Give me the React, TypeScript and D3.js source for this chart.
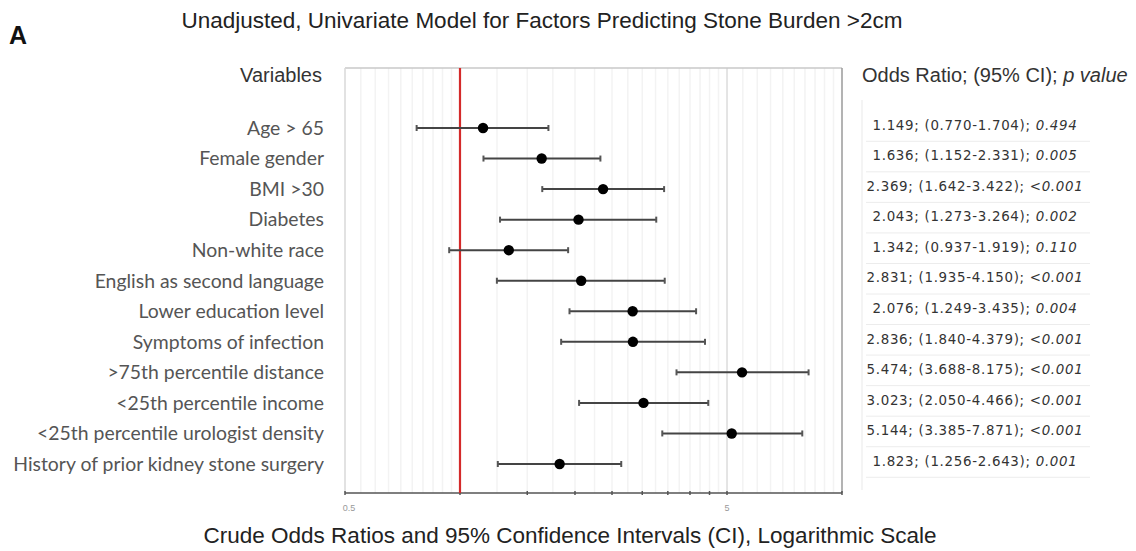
import React from "react";
import * as d3 from "d3";

const variables = [
  "Age > 65",
  "Female gender",
  "BMI >30",
  "Diabetes",
  "Non-white race",
  "English as second language",
  "Lower education level",
  "Symptoms of infection",
  ">75th percentile distance",
  "<25th percentile income",
  "<25th percentile urologist density",
  "History of prior kidney stone surgery",
];

// values as plotted in the figure
const oddsRatios = [1.149, 1.636, 2.369, 2.043, 1.342, 2.076, 2.831, 2.836, 5.474, 3.023, 5.144, 1.823];
const ciLow = [0.77, 1.152, 1.642, 1.273, 0.937, 1.249, 1.935, 1.84, 3.688, 2.05, 3.385, 1.256];
const ciHigh = [1.704, 2.331, 3.422, 3.264, 1.919, 3.435, 4.15, 4.379, 8.175, 4.466, 7.871, 2.643];

// table column text
const tableEstimates = [
  "1.149; (0.770-1.704);",
  "1.636; (1.152-2.331);",
  "2.369; (1.642-3.422);",
  "2.043; (1.273-3.264);",
  "1.342; (0.937-1.919);",
  "2.831; (1.935-4.150);",
  "2.076; (1.249-3.435);",
  "2.836; (1.840-4.379);",
  "5.474; (3.688-8.175);",
  "3.023; (2.050-4.466);",
  "5.144; (3.385-7.871);",
  "1.823; (1.256-2.643);",
];
const pValues = ["0.494", "0.005", "<0.001", "0.002", "0.110", "<0.001", "0.004", "<0.001", "<0.001", "<0.001", "<0.001", "0.001"];

const tickValues = [0.5, 1, 1.5, 2, 2.5, 3, 3.5, 4, 4.5, 5, 10];
const tickLabels = ["0.5", "", "", "", "", "", "", "", "", "5", ""];
const gridValues = [
  0.55, 0.6, 0.65, 0.7, 0.75, 0.8, 0.85, 0.9, 0.95,
  1.25, 1.5, 1.75, 2, 2.25, 2.5, 2.75, 3, 3.25, 3.5, 3.75, 4, 4.25, 4.5, 4.75,
  5.5, 6, 6.5, 7, 7.5, 8, 8.5, 9, 9.5,
];

const W = 1136;
const H = 551;
const plotLeft = 345;
const plotRight = 842;
const plotTop = 68;
const plotBottom = 493;

export default function App() {
  const x = d3.scaleLog().domain([0.5, 10]).range([plotLeft, plotRight]);
  const y = d3.scalePoint<string>().domain(variables).range([128, 464]);
  const step = y.step();
  const sans = "'Liberation Sans', Arial, sans-serif";
  const labelFont = "Lato, 'Open Sans', sans-serif";

  return (
    <div style={{ position: "absolute", left: 0, top: 0 }}>
      <svg width={W} height={H} style={{ display: "block", background: "#fff" }}>
        {/* title */}
        <text x={542} y={28} textAnchor="middle" fontFamily={sans} fontSize={22.5} fill="#222">
          Unadjusted, Univariate Model for Factors Predicting Stone Burden &gt;2cm
        </text>
        <text x={9} y={44} fontFamily={sans} fontWeight="bold" fontSize={25} fill="#111">
          A
        </text>

        {/* headers */}
        <text x={322} y={82} textAnchor="end" fontFamily={sans} fontSize={20} fill="#333">
          Variables
        </text>
        <text x={862} y={82} fontFamily={sans} fontSize={20} fill="#333">
          Odds Ratio; (95% CI); <tspan fontStyle="italic">p value</tspan>
        </text>

        {/* grid */}
        {gridValues.map((g, i) => (
          <line key={"g" + i} x1={x(g)} x2={x(g)} y1={plotTop} y2={plotBottom} stroke="#f3f3f3" strokeWidth={1.5} />
        ))}
        <line x1={x(5)} x2={x(5)} y1={plotTop} y2={plotBottom} stroke="#dcdcdc" strokeWidth={1.5} />

        {/* frame */}
        <line x1={plotLeft} x2={plotRight} y1={plotTop} y2={plotTop} stroke="#c8c8c8" strokeWidth={1.5} />
        <line x1={plotLeft} x2={plotLeft} y1={plotTop} y2={plotBottom} stroke="#d8d8d8" strokeWidth={1.5} />
        <line x1={plotRight} x2={plotRight} y1={plotTop} y2={plotBottom} stroke="#9a9a9a" strokeWidth={1.5} />

        {/* axis */}
        <line x1={plotLeft} x2={plotRight} y1={plotBottom} y2={plotBottom} stroke="#555" strokeWidth={1.5} />
        {tickValues.map((t, i) => (
          <g key={"t" + i}>
            <line x1={x(t)} x2={x(t)} y1={plotBottom - 2} y2={plotBottom + 2} stroke="#555" strokeWidth={1.5} />
            {tickLabels[i] && (
              <text x={x(t) + (t === 0.5 ? 4 : 0)} y={511} textAnchor="middle" fontFamily={sans} fontSize={9} fill="#999">
                {tickLabels[i]}
              </text>
            )}
          </g>
        ))}

        {/* reference line at 1 */}
        <line x1={x(1)} x2={x(1)} y1={plotTop} y2={plotBottom} stroke="#d42a2a" strokeWidth={2.2} />

        {/* rows */}
        {variables.map((v, i) => {
          const cy = y(v) as number;
          return (
            <g key={v}>
              <text x={324} y={cy} dy="0.35em" textAnchor="end" fontFamily={labelFont} fontSize={19.4} fill="#555">
                {v}
              </text>
              <line x1={x(ciLow[i])} x2={x(ciHigh[i])} y1={cy} y2={cy} stroke="#444" strokeWidth={2} />
              <line x1={x(ciLow[i])} x2={x(ciLow[i])} y1={cy - 3} y2={cy + 3} stroke="#555" strokeWidth={2} />
              <line x1={x(ciHigh[i])} x2={x(ciHigh[i])} y1={cy - 3} y2={cy + 3} stroke="#555" strokeWidth={2} />
              <circle cx={x(oddsRatios[i])} cy={cy} r={5.2} fill="#000" />
              <text x={975} y={cy - 3} dy="0.35em" textAnchor="middle" fontFamily="'DejaVu Sans', sans-serif" fontSize={13.4} letterSpacing={0.7} fill="#333">
                {tableEstimates[i]} <tspan fontStyle="italic">{pValues[i]}</tspan>
              </text>
              <line x1={866} x2={1090} y1={cy + step / 2 - 2} y2={cy + step / 2 - 2} stroke="#ececec" strokeWidth={1} />
            </g>
          );
        })}
        <line x1={862} x2={862} y1={100} y2={490} stroke="#f4f4f4" strokeWidth={2} />

        {/* x axis title */}
        <text x={570} y={543} textAnchor="middle" fontFamily={sans} fontSize={22.5} fill="#222">
          Crude Odds Ratios and 95% Confidence Intervals (CI), Logarithmic Scale
        </text>
      </svg>
    </div>
  );
}
